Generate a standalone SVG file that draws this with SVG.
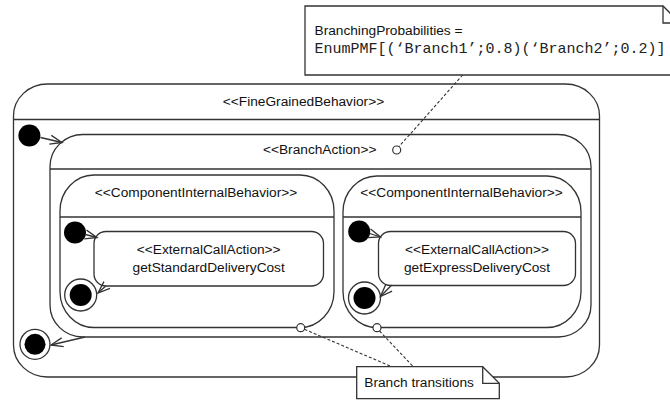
<svg xmlns="http://www.w3.org/2000/svg" width="670" height="402" viewBox="0 0 670 402">
  <style>
    .box { fill: #fff; stroke: #333; stroke-width: 1.3; }
    .sep { stroke: #333; stroke-width: 1.3; }
    .lbl { font-family: "Liberation Sans", Arial, sans-serif; font-size: 13.7px; fill: #111; text-anchor: middle; }
    .ntxt { font-family: "Liberation Sans", Arial, sans-serif; font-size: 13.7px; fill: #111; }
    .mono { font-family: "Liberation Mono", "Courier New", monospace; font-size: 15px; fill: #222; }
    .init { fill: #000; }
    .fin { fill: #fff; stroke: #333; stroke-width: 1.3; }
    .tr { fill: none; stroke: #333; stroke-width: 1.3; marker-end: url(#open); }
    .dash { fill: none; stroke: #333; stroke-width: 1.1; stroke-dasharray: 3 2; }
    .pin { fill: #fff; stroke: #333; stroke-width: 1.2; }
  </style>
  <defs>
    <marker id="open" markerUnits="userSpaceOnUse" markerWidth="16" markerHeight="12" viewBox="-14 -6 16 12" refX="0" refY="0" orient="auto">
      <path d="M-12,-4.5 L0,0 L-12,4.5" fill="none" stroke="#333" stroke-width="1.3"/>
    </marker>
  </defs>
  <rect width="670" height="402" fill="#fff"/>

  <g id="fine-grained-behavior">
    <rect class="box" x="13.5" y="84" width="586" height="293" rx="34" ry="32"/>
    <line class="sep" x1="13.5" y1="119.5" x2="599.5" y2="119.5"/>
    <text class="lbl" x="303.5" y="106">&lt;&lt;FineGrainedBehavior&gt;&gt;</text>
  </g>

  <g id="branch-action">
    <rect class="box" x="50" y="134.5" width="541" height="202.5" rx="33" ry="32"/>
    <line class="sep" x1="50" y1="169" x2="591" y2="169"/>
    <text class="lbl" x="319.7" y="154">&lt;&lt;BranchAction&gt;&gt;</text>
  </g>

  <g id="cib-standard">
    <rect class="box" x="60" y="175" width="274" height="152.5" rx="34" ry="36"/>
    <line class="sep" x1="60" y1="217" x2="334" y2="217"/>
    <text class="lbl" x="196" y="197">&lt;&lt;ComponentInternalBehavior&gt;&gt;</text>
  </g>

  <g id="cib-express">
    <rect class="box" x="343" y="176" width="238" height="151.5" rx="34" ry="36"/>
    <line class="sep" x1="343" y1="217" x2="581" y2="217"/>
    <text class="lbl" x="461.5" y="197">&lt;&lt;ComponentInternalBehavior&gt;&gt;</text>
  </g>

  <g id="eca-standard">
    <rect class="box" x="94" y="231.5" width="229.5" height="54.5" rx="12"/>
    <text class="lbl" x="208.7" y="253.5">&lt;&lt;ExternalCallAction&gt;&gt;</text>
    <text class="lbl" x="208.7" y="271.5">getStandardDeliveryCost</text>
  </g>

  <g id="eca-express">
    <rect class="box" x="378.5" y="231.5" width="197" height="54" rx="12"/>
    <text class="lbl" x="477" y="253.5">&lt;&lt;ExternalCallAction&gt;&gt;</text>
    <text class="lbl" x="477" y="271.5">getExpressDeliveryCost</text>
  </g>

  <g id="initial-outer"><circle class="init" cx="29.4" cy="135.5" r="11"/></g>
  <g id="initial-standard"><circle class="init" cx="75" cy="232.5" r="11"/></g>
  <g id="initial-express"><circle class="init" cx="359.2" cy="231.5" r="11"/></g>

  <g id="final-outer">
    <circle class="fin" cx="35" cy="344.3" r="15"/>
    <circle class="init" cx="35" cy="344.3" r="10.5"/>
  </g>
  <g id="final-standard">
    <circle class="fin" cx="80.7" cy="295" r="16"/>
    <circle class="init" cx="80.7" cy="295" r="11"/>
  </g>
  <g id="final-express">
    <circle class="fin" cx="364.5" cy="298" r="16"/>
    <circle class="init" cx="364.5" cy="298" r="11"/>
  </g>

  <g id="note-probabilities">
    <path class="box" d="M305,6 L663,6 L680,23 L680,75 L305,75 Z"/>
    <path fill="none" stroke="#333" stroke-width="1.3" d="M663,6 L663,23 L680,23"/>
    <text class="ntxt" x="314.5" y="35">BranchingProbabilities =</text>
    <text class="mono" x="314.5" y="53">EnumPMF[(‘Branch1’;0.8)(‘Branch2’;0.2)]</text>
  </g>

  <g id="note-transitions">
    <path class="box" d="M356.7,366.7 L482.7,366.7 L499.3,383.3 L499.3,398.7 L356.7,398.7 Z"/>
    <path fill="none" stroke="#333" stroke-width="1.3" d="M482.7,366.7 L482.7,383.3 L499.3,383.3"/>
    <text class="ntxt" x="364.3" y="387.3">Branch transitions</text>
  </g>

  <g id="connectors">
    <line class="tr" x1="40.5" y1="137.5" x2="62" y2="142.5"/>
    <line class="tr" x1="85.5" y1="234.5" x2="97" y2="237.5"/>
    <line class="tr" x1="369.8" y1="233.5" x2="380.5" y2="237"/>
    <line class="tr" x1="105.8" y1="286" x2="98" y2="293"/>
    <line class="tr" x1="391.7" y1="285" x2="380.5" y2="296.5"/>
    <line class="tr" x1="85" y1="337" x2="51" y2="345"/>
    <line class="dash" x1="462.7" y1="75" x2="398.8" y2="146.8"/>
    <line class="dash" x1="304.5" y1="329.3" x2="391.7" y2="366.7"/>
    <line class="dash" x1="379.5" y1="331" x2="413.3" y2="366.7"/>
    <circle class="pin" cx="396.7" cy="150" r="4"/>
    <circle class="pin" cx="300.7" cy="327.7" r="4"/>
    <circle class="pin" cx="377" cy="327.7" r="4"/>
  </g>
</svg>
